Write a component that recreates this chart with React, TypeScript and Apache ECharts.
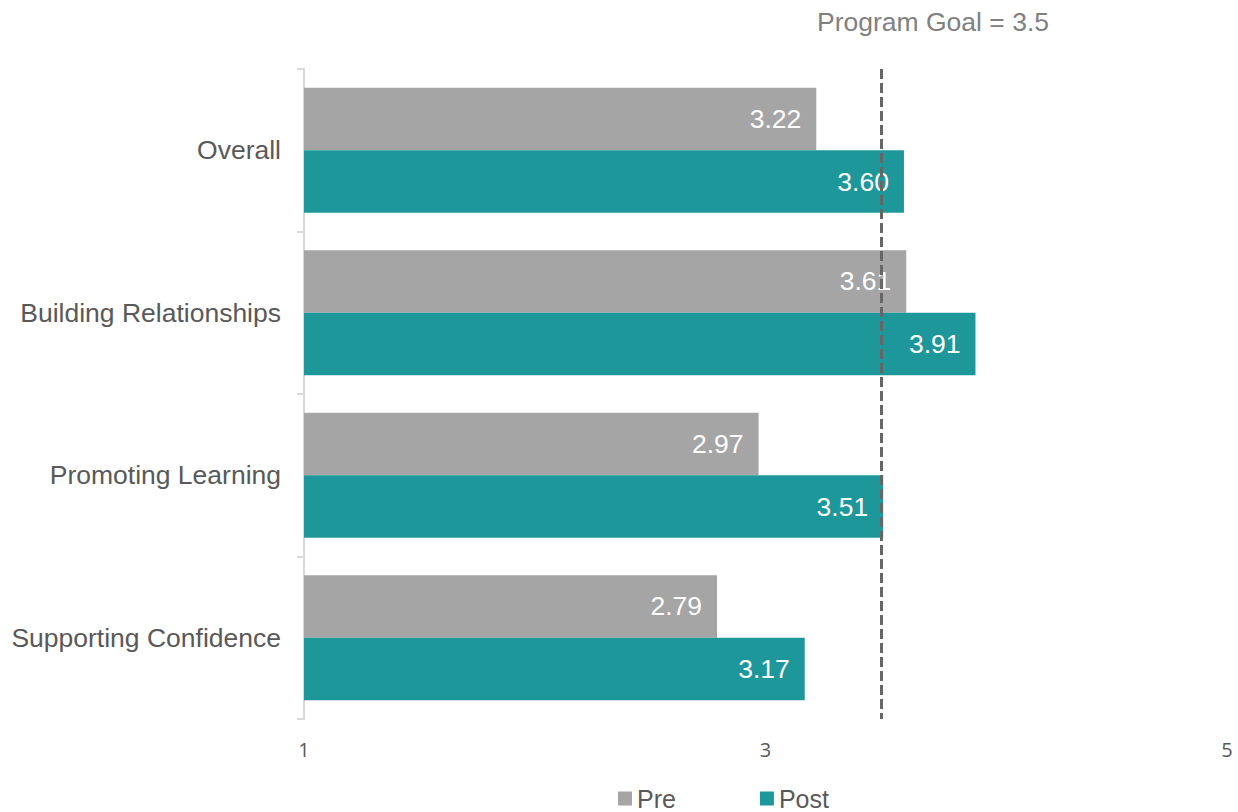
import React, { useEffect, useRef } from "react";
import * as echarts from "echarts";

const categories = ["Overall", "Building Relationships", "Promoting Learning", "Supporting Confidence"];
const preValues = [3.22, 3.61, 2.97, 2.79];
const postValues = [3.6, 3.91, 3.51, 3.17];
const goalValue = 3.5;
const xTicks = [1, 3, 5];

const FONT = "Liberation Sans, Arial, sans-serif";

export default function App() {
  const ref = useRef<HTMLDivElement>(null);
  useEffect(() => {
    if (!ref.current) return;
    const chart = echarts.init(ref.current, undefined, { renderer: "svg" });
    const labelStyle = {
      show: true,
      position: "insideRight",
      distance: 15,
      color: "#ffffff",
      fontSize: 26.5,
      fontFamily: FONT,
      formatter: (p: any) => Number(p.value).toFixed(2),
    };
    chart.setOption({
      animation: false,
      title: {
        text: "Program Goal = " + goalValue,
        left: 812,
        top: 3,
        textStyle: {
          color: "#808080",
          fontSize: 26.5,
          fontWeight: "normal",
          fontFamily: FONT,
        },
      },
      legend: {
        left: 618,
        top: 786,
        padding: 0,
        itemWidth: 14,
        itemHeight: 14,
        itemGap: 84,
        icon: "rect",
        textStyle: {
          color: "#595959",
          fontSize: 25,
          lineHeight: 24,
          fontFamily: FONT,
        },
        data: ["Pre", "Post"],
      },
      grid: { left: 304, right: 11, top: 69, bottom: 93, containLabel: false },
      xAxis: {
        type: "value",
        min: xTicks[0],
        max: xTicks[xTicks.length - 1],
        interval: 2,
        axisLine: { show: false },
        axisTick: { show: false },
        splitLine: { show: false },
        axisLabel: {
          color: "#595959",
          fontSize: 20,
          margin: 20,
          fontFamily: "Open Sans, sans-serif",
        },
      },
      yAxis: {
        type: "category",
        data: categories,
        inverse: true,
        axisLine: { show: true, lineStyle: { color: "#d9d9d9", width: 2 } },
        axisTick: { show: true, length: 7, lineStyle: { color: "#d9d9d9", width: 2 } },
        axisLabel: {
          color: "#595959",
          fontSize: 26.5,
          margin: 23,
          fontFamily: FONT,
        },
      },
      series: [
        {
          name: "Pre",
          type: "bar",
          data: preValues,
          barGap: "0%",
          barCategoryGap: "23%",
          itemStyle: { color: "#a5a5a5" },
          label: labelStyle,
        },
        {
          name: "Post",
          type: "bar",
          data: postValues,
          barGap: "0%",
          barCategoryGap: "23%",
          itemStyle: { color: "#1e979b" },
          label: labelStyle,
          markLine: {
            silent: true,
            symbol: "none",
            label: { show: false },
            lineStyle: { color: "#666666", type: [10, 4], width: 3 },
            data: [{ xAxis: goalValue }],
            z: 10,
          },
        },
      ],
    });
    return () => chart.dispose();
  }, []);
  return (
    <div
      ref={ref}
      style={{ position: "fixed", left: 0, top: 0, width: 1238, height: 812, background: "#ffffff" }}
    />
  );
}
